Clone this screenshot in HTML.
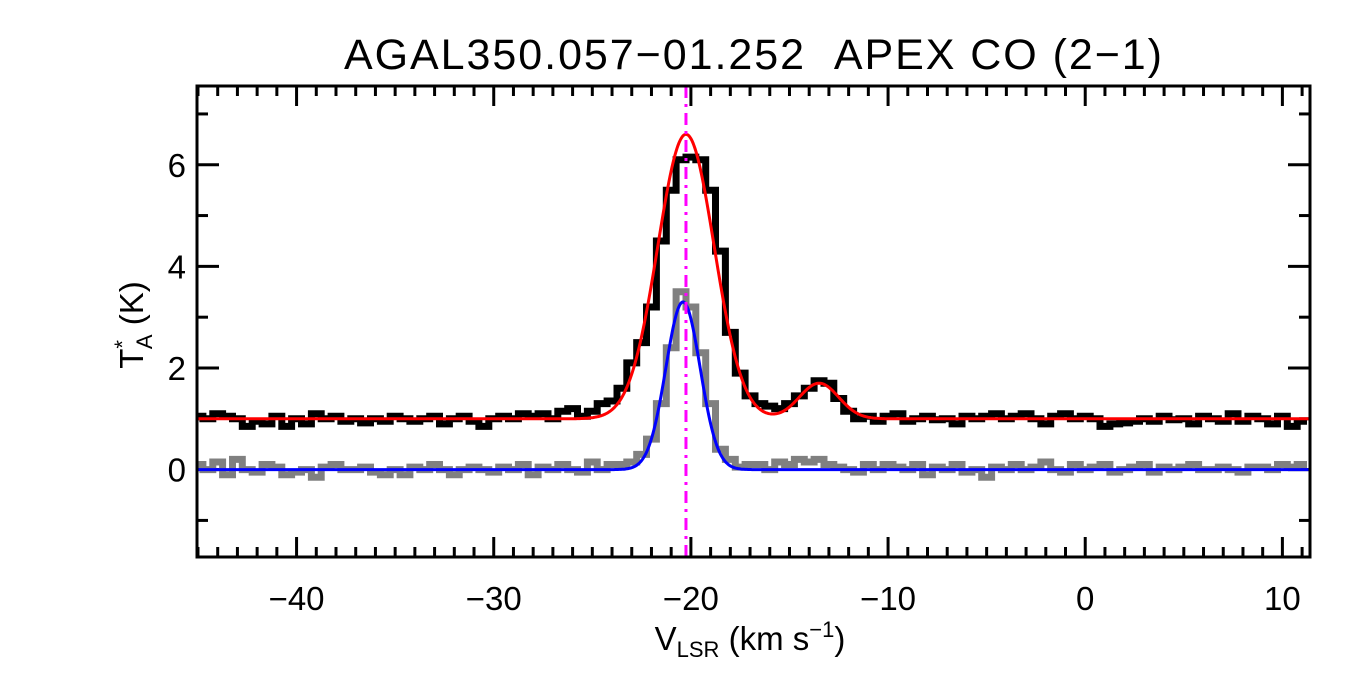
<!DOCTYPE html>
<html><head><meta charset="utf-8"><style>
body{margin:0;background:#fff;}
svg{display:block;font-family:"Liberation Sans",sans-serif;}
</style></head><body>
<svg id="chart" width="1350" height="675">
<rect width="1350" height="675" fill="#fff"/>
<text x="753" y="69" font-size="43" text-anchor="middle" textLength="818" lengthAdjust="spacing">AGAL350.057−01.252&#160;&#160;APEX CO (2−1)</text>
<g id="ticks"></g>
<g id="series"></g>
<rect x="197" y="86" width="1113" height="471" fill="none" stroke="#000" stroke-width="3"/>
<text x="750" y="650" font-size="33" text-anchor="middle">V<tspan font-size="22" dy="7">LSR</tspan><tspan dy="-7"> (km s</tspan><tspan font-size="22" dy="-13">−1</tspan><tspan dy="13">)</tspan></text>
<text transform="translate(143,325) rotate(-90)" font-size="33" text-anchor="middle">T<tspan font-size="22" dy="-13">*</tspan><tspan font-size="22" dx="-9" dy="22">A</tspan><tspan dy="-9"> (K)</tspan></text>
</svg>
<script>
const vStart = -45.25, vStep = 0.5;
const coSpec = [1.05,1.0,1.1,1.05,1.0,0.85,0.95,0.9,1.05,0.85,
1.0,0.9,1.1,1.0,1.05,0.95,1.0,0.92,1.0,0.95,
1.05,1.0,0.95,1.0,1.05,0.9,1.0,1.05,0.95,0.85,
1.0,1.05,1.0,1.1,1.05,1.1,1.0,1.15,1.2,1.05,
1.15,1.3,1.35,1.6,2.1,2.5,3.2,4.5,5.5,6.1,
6.15,6.1,5.5,4.3,2.7,1.9,1.45,1.3,1.25,1.2,
1.3,1.45,1.6,1.75,1.7,1.4,1.15,1.0,1.05,0.95,
1.05,1.1,0.95,1.0,1.05,0.98,1.0,0.9,1.05,1.0,
1.05,1.1,1.0,1.05,1.1,1.0,0.9,1.05,1.1,1.0,
1.05,1.0,0.85,0.9,0.92,0.95,1.0,0.95,1.05,0.98,
1.0,0.9,1.05,1.0,0.95,1.1,0.95,1.05,1.0,0.9,
1.05,0.85,0.95];
const graySpec = [0.1,0.0,0.15,-0.1,0.2,0.0,-0.05,0.1,0.05,-0.1,
-0.05,0.0,-0.15,0.05,0.1,0.0,0.0,0.05,-0.05,-0.1,
0.0,-0.1,0.05,0.0,0.1,0.0,-0.1,0.0,0.05,0.0,
-0.05,0.05,0.0,0.1,-0.1,0.05,0.0,0.1,0.0,-0.05,
0.15,0.0,0.1,0.1,0.15,0.3,0.6,1.3,2.4,3.5,
3.2,2.3,1.3,0.4,0.2,0.05,0.1,0.1,0.0,0.15,
0.1,0.2,0.15,0.2,0.1,0.05,0.0,-0.05,0.1,0.0,
0.1,0.05,0.0,0.1,-0.1,0.05,0.0,0.1,-0.05,0.0,
-0.15,0.05,0.0,0.1,0.0,0.05,0.15,0.0,-0.05,0.1,
0.0,0.05,0.1,-0.05,0.0,0.05,0.1,-0.05,0.05,0.0,
0.05,0.1,0.0,0.0,0.05,0.0,-0.05,0.05,0.05,0.0,
0.1,0.05,0.1];
// fit parameters: [amplitude, center, sigma]
const redBase = 1.0;
const redComps = [[5.6,-20.25,1.43],[0.7,-13.5,1.0]];
const blueBase = 0.0;
const blueComps = [[3.3,-20.4,0.87]];
const refVel = -20.25;
const xTickVals = [-40,-30,-20,-10,0,10];
const yTickVals = [0,2,4,6];

const X0=197,X1=1310,Y0=86,Y1=557, XMIN=-45.05, XMAX=11.4, YMIN=-1.72, YMAX=7.55;
const sx=v=>X0+(v-XMIN)/(XMAX-XMIN)*(X1-X0);
const sy=t=>Y1-(t-YMIN)/(YMAX-YMIN)*(Y1-Y0);
const NS='http://www.w3.org/2000/svg';
const mk=(t,a,p)=>{const e=document.createElementNS(NS,t);for(const k in a)e.setAttribute(k,a[k]);p.appendChild(e);return e;};
const tg=document.getElementById('ticks'), sg=document.getElementById('series');

for(let v=-45;v<=11;v++){
  const major=v%10===0, L=major?20:10;
  const t1=mk('line',{x1:sx(v),x2:sx(v),y1:Y1,y2:Y1-L,stroke:'#000','stroke-width':3},tg);
  
  
  const t2=mk('line',{x1:sx(v),x2:sx(v),y1:Y0,y2:Y0+L,stroke:'#000','stroke-width':3},tg);
  
  
}
xTickVals.forEach(v=>{
  const t=mk('text',{x:sx(v),y:610,'font-size':33,'text-anchor':'middle'},tg);
  t.textContent=(v<0?'−':'')+Math.abs(v);
  
  
});
for(let t=-1;t<=7;t++){
  const L=(t%2===0)?22:11;
  const a=mk('line',{x1:X0,x2:X0+L,y1:sy(t),y2:sy(t),stroke:'#000','stroke-width':3},tg);
  
  
  const b=mk('line',{x1:X1,x2:X1-L,y1:sy(t),y2:sy(t),stroke:'#000','stroke-width':3},tg);
  
  
}
yTickVals.forEach(v=>{
  const t=mk('text',{x:186,y:sy(v)+12,'font-size':33,'text-anchor':'end'},tg);
  t.textContent=v;
  
  
});

function stepPath(arr){
  let d='';
  arr.forEach((t,i)=>{
    const a=Math.max(XMIN,vStart+i*vStep), b=Math.min(XMAX,vStart+(i+1)*vStep);
    d+=(i?'L':'M')+sx(a).toFixed(1)+','+sy(t).toFixed(1)+'L'+sx(b).toFixed(1)+','+sy(t).toFixed(1);
  });
  return d;
}
function fitPath(base,comps){
  let d='';
  for(let px=X0;px<=X1;px+=1){
    const v=XMIN+(px-X0)/(X1-X0)*(XMAX-XMIN);
    let t=base; comps.forEach(c=>{t+=c[0]*Math.exp(-((v-c[1])**2)/(2*c[2]*c[2]));});
    d+=(px===X0?'M':'L')+px+','+sy(t).toFixed(1);
  }
  return d;
}
const g1=mk('path',{d:stepPath(graySpec),fill:'none',stroke:'#808080','stroke-width':7},sg);


const b1=mk('path',{d:stepPath(coSpec),fill:'none',stroke:'#000','stroke-width':7},sg);


const r1=mk('path',{d:fitPath(redBase,redComps),fill:'none',stroke:'#ff0000','stroke-width':3},sg);


const bl=mk('path',{d:fitPath(blueBase,blueComps),fill:'none',stroke:'#0000ff','stroke-width':3},sg);


const m=mk('line',{x1:sx(refVel),x2:sx(refVel),y1:Y0,y2:Y1,stroke:'#ff00ff','stroke-width':3,'stroke-dasharray':'12,6,3,6'},sg);


</script>
</body></html>
